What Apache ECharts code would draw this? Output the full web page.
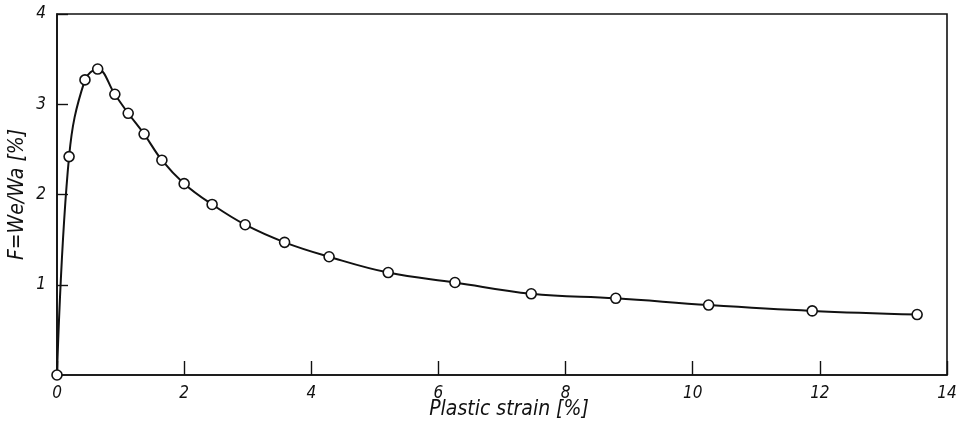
<!DOCTYPE html>
<html>
<head>
<meta charset="utf-8">
<script src="https://cdn.jsdelivr.net/npm/echarts@6/dist/echarts.min.js"></script>
<style>html,body{margin:0;padding:0;background:#fff}#c{width:958px;height:426px}</style>
</head>
<body>
<div id="c"></div>
<script>
var strain = [0, 0.19, 0.44, 0.64, 0.91, 1.12, 1.37, 1.65, 2.00, 2.44, 2.96, 3.58, 4.28, 5.21, 6.26, 7.46, 8.79, 10.25, 11.88, 13.53];
var ratio  = [0, 2.42, 3.27, 3.39, 3.11, 2.90, 2.67, 2.38, 2.12, 1.89, 1.665, 1.47, 1.31, 1.135, 1.025, 0.90, 0.85, 0.775, 0.71, 0.67];
var xTicks = [0, 2, 4, 6, 8, 10, 12, 14];
var yTicks = [0, 1, 2, 3, 4];
var xName = 'Plastic strain [%]';
var yName = 'F=We/Wa [%]';

var pts = strain.map(function (x, i) { return [x, ratio[i]]; });
var font = 'DejaVu Sans Condensed, DejaVu Sans, sans-serif';
var chart = echarts.init(document.getElementById('c'), null, {renderer: 'canvas'});
chart.setOption({
  animation: false,
  backgroundColor: '#fff',
  grid: {left: 57, right: 11, top: 14, bottom: 51, show: true, borderColor: '#111', borderWidth: 1.6,
    backgroundColor: 'transparent', containLabel: false, outerBoundsMode: 'none'},
  xAxis: {
    type: 'value', min: xTicks[0], max: xTicks[xTicks.length - 1], interval: 2,
    name: xName, nameLocation: 'middle', nameGap: 24, nameMoveOverlap: false,
    nameTextStyle: {fontFamily: font, fontStyle: 'italic', fontSize: 21, color: '#111', padding: [0, 0, 0, 14]},
    axisLine: {show: true, lineStyle: {color: '#111', width: 1.6}},
    axisTick: {show: true, inside: true, length: 14, lineStyle: {color: '#111', width: 1.4}},
    axisLabel: {fontFamily: font, fontStyle: 'italic', fontSize: 17, color: '#111', margin: 10,
      formatter: function (v) { return xTicks.indexOf(v) >= 0 ? String(v) : ''; }},
    splitLine: {show: false}
  },
  yAxis: {
    type: 'value', min: yTicks[0], max: yTicks[yTicks.length - 1], interval: 1,
    name: yName, nameLocation: 'middle', nameGap: 29, nameMoveOverlap: false,
    nameTextStyle: {fontFamily: font, fontStyle: 'italic', fontSize: 21, color: '#111'},
    axisLine: {show: true, lineStyle: {color: '#111', width: 1.6}},
    axisTick: {show: true, inside: true, length: 11, lineStyle: {color: '#111', width: 1.4}},
    axisLabel: {fontFamily: font, fontStyle: 'italic', fontSize: 17, color: '#111', margin: 11, showMinLabel: false,
      formatter: function (v) { return yTicks.indexOf(v) >= 0 ? String(v) : ''; }},
    splitLine: {show: false}
  },
  series: [{
    type: 'line', data: pts, smooth: 0.4,
    lineStyle: {color: '#111', width: 2},
    symbol: 'circle', symbolSize: 10,
    itemStyle: {color: '#fff', borderColor: '#111', borderWidth: 1.6},
    z: 3
  }]
});
</script>
</body>
</html>
